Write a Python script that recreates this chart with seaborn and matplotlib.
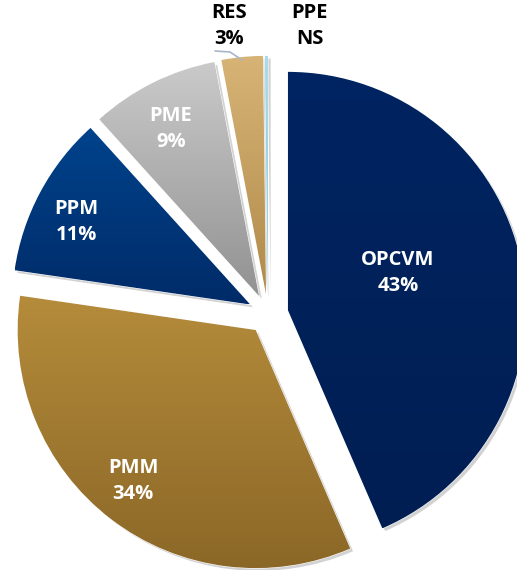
import numpy as np
import seaborn as sns
import matplotlib.pyplot as plt
import matplotlib.patheffects as pe
from matplotlib.colors import LinearSegmentedColormap

sns.set_theme(style="white")
plt.rcParams['font.family'] = ['Open Sans', 'DejaVu Sans']

categories = ['OPCVM', 'PMM', 'PPM', 'PME', 'RES', 'PPE']
shares = [43.5, 33.8, 11.0, 8.7, 2.8, 0.2]
pct_labels = ['43%', '34%', '11%', '9%', '3%', 'NS']

# gradient colours (top, bottom) per slice
top_colors = ['#002462', '#B58C3B', '#00438C', '#CACACA', '#D7B476', '#A8DCEA']
bottom_colors = ['#001E52', '#8B6727', '#002B68', '#929292', '#B08A4A', '#7FC4D8']

W, H = 517, 570
R = 238.0            # pie radius in pixels
CX, CY = 268, 314    # pie centre in pixels (from top-left)


def to_data(px, py):
    return (px - CX) / R, (CY - py) / R


fig = plt.figure(figsize=(W / 100, H / 100), dpi=100)
ax = fig.add_axes([0, 0, 1, 1])

wedges, _ = ax.pie(shares, startangle=90, counterclock=False,
                   explode=[0.085] * len(shares),
                   colors=bottom_colors,
                   wedgeprops=dict(edgecolor='white', linewidth=0.8))

for w, c0, c1 in zip(wedges, top_colors, bottom_colors):
    w.set_path_effects([pe.SimplePatchShadow(offset=(2, -2), shadow_rgbFace='#808080', alpha=0.35),
                        pe.Normal()])
    v = w.get_path().vertices
    x0, x1 = v[:, 0].min(), v[:, 0].max()
    y0, y1 = v[:, 1].min(), v[:, 1].max()
    cmap = LinearSegmentedColormap.from_list('g', [c1, c0])
    grad = np.linspace(1, 0, 256).reshape(-1, 1)
    im = ax.imshow(grad, extent=(x0, x1, y0, y1), cmap=cmap, aspect='auto',
                   origin='upper', zorder=w.get_zorder() + 0.1)
    im.set_clip_path(w)

# label block centres in pixels (from top-left)
label_pos = [(398, 273), (133, 481), (76, 222), (171, 129), (229, 26), (310, 26)]
label_col = ['white', 'white', 'white', 'white', 'black', 'black']
for name, pct, (px, py), col in zip(categories, pct_labels, label_pos, label_col):
    tx, ty = to_data(px, py)
    ax.text(tx, ty, f'{name}\n{pct}', ha='center', va='center', color=col,
            fontsize=14.5, fontweight='bold', linespacing=1.35, zorder=10)

# leader line for RES
lx, ly = zip(*[to_data(215, 51), to_data(230, 52), to_data(242, 60)])
ax.plot(lx, ly, color='#A9B6C9', lw=1.2, zorder=9)

ax.set_xlim(-CX / R, (W - CX) / R)
ax.set_ylim(-(H - CY) / R, CY / R)
ax.set_aspect('equal')
ax.axis('off')
fig.savefig('out.png', dpi=100)
